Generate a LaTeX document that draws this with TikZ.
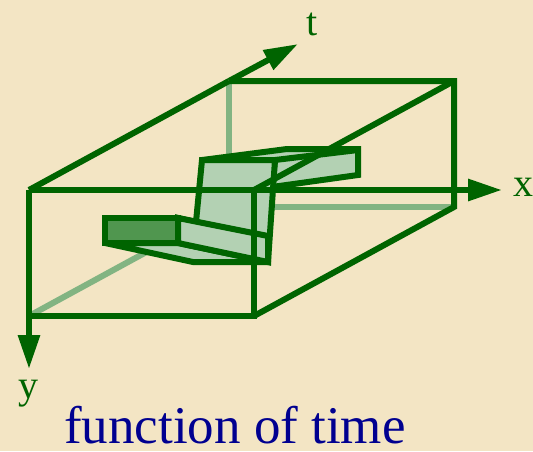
\documentclass[tikz,border=0pt]{standalone}
\usepackage{fontspec}
\setmainfont{Liberation Serif}
\usepackage{xcolor}
\usetikzlibrary{arrows.meta}
\definecolor{paper}{HTML}{F3E5C4}
\definecolor{edgegreen}{HTML}{006400}
\definecolor{hiddengreen}{HTML}{82B482}
\definecolor{ribbonfill}{HTML}{B3D1B3}
\definecolor{capfill}{HTML}{50964F}
\definecolor{titleblue}{HTML}{000090}

\begin{document}
\begin{tikzpicture}[
    x=1pt, y=-1pt,
    edge/.style={draw=edgegreen, line width=6pt, line join=miter, miter limit=2},
    hidden/.style={draw=hiddengreen, line width=6pt},
    axis/.style={edge, miter limit=10, -{Triangle[length=34pt, width=21pt]}},
    ribbon/.style={edge, fill=ribbonfill},
    capface/.style={edge, fill=capfill},
    axislabel/.style={text=edgegreen, font=\fontsize{40}{48}\selectfont, inner sep=0pt, anchor=base},
    caption/.style={text=titleblue, font=\fontsize{53}{60}\selectfont, inner sep=0pt, anchor=base west}
]
\fill [paper] (0,0) rectangle (533,451);
\useasboundingbox (0,0) rectangle (533,451);

% Box corners
\coordinate (ftl) at (29,190);
\coordinate (ftr) at (254,190);
\coordinate (fbr) at (254,316);
\coordinate (fbl) at (29,316);
\coordinate (btl) at (229,81);
\coordinate (btr) at (454,81);
\coordinate (bbr) at (454,207);
\coordinate (bbl) at (229,207);

% Axis ends
\coordinate (xend) at (502,190);
\coordinate (yend) at (29,369);
\coordinate (tend) at (298,44);

% Hidden box edges
\draw [hidden] (btl) -- (bbl);
\draw [hidden] (bbl) -- (bbr);
\draw [hidden] (fbl) -- (bbl);

% Moving object, back to front
\draw [ribbon] (202,160) -- (287,149) -- (358,149) -- (358,175) -- (272,187) -- (275,160) -- cycle;
\draw [ribbon] (275,160) -- (358,150);
\draw [ribbon] (202,160) -- (275,160) -- (268,262) -- (178,243) -- (178,218) -- (196,222) -- cycle;
\draw [ribbon] (105,243) -- (193,262) -- (268,262) -- (178,243) -- cycle;
\draw [ribbon] (178,218) -- (268,236) -- (268,262) -- (178,243) -- cycle;
\draw [capface] (105,218) rectangle (178,243);

% Box edges
\draw [edge] (btl) -- (btr) -- (bbr) -- (fbr);
\draw [edge] (btr) -- (ftr);
\draw [edge] (ftr) -- (fbr) -- (fbl);
\draw [edge] (ftl) -- (btl);

% Axes
\draw [axis] (ftl) -- (xend);
\draw [axis] (ftl) -- (yend);
\draw [axis] (btl) -- (tend);
\draw [edge] (ftl) -- (fbl);

% Labels
\node [axislabel] (xlabel) at (523,196) {x};
\node [axislabel] (ylabel) at (29,398) {y};
\node [axislabel] (tlabel) at (312,35) {t};
\node [caption] (title) at (64,443) {function of time};

\end{tikzpicture}
\end{document}
